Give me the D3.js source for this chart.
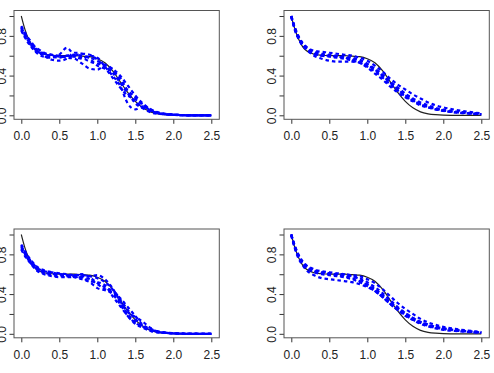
<!DOCTYPE html>
<html>
<head>
<meta charset="utf-8">
<script src="https://cdn.jsdelivr.net/npm/d3@7"></script>
<style>
  body { margin: 0; background: #fff; }
  text { font-family: "Liberation Sans Narrow", "Liberation Sans", sans-serif; fill: #222; }
</style>
</head>
<body>
<div id="area"></div>
<script>
// time grid shared by every curve
var tGrid = [0, 0.05, 0.1, 0.15, 0.2, 0.3, 0.4, 0.5, 0.6, 0.7, 0.8, 0.9, 1.0, 1.1, 1.2, 1.3, 1.4, 1.5, 1.6, 1.7, 1.8, 1.9, 2.0, 2.2, 2.5];

// the true curve (solid black)
var trueCurve = [1.00, 0.86, 0.76, 0.69, 0.65, 0.615, 0.605, 0.60, 0.60, 0.60, 0.595, 0.59, 0.57, 0.53, 0.45, 0.34, 0.23, 0.14, 0.075, 0.035, 0.015, 0.006, 0.002, 0.0, 0.0];

// estimates, top left
var estTopLeft = [
    [0.88, 0.80, 0.74, 0.68, 0.64, 0.61, 0.60, 0.59, 0.60, 0.61, 0.60, 0.58, 0.55, 0.50, 0.43, 0.33, 0.22, 0.14, 0.08, 0.04, 0.02, 0.01, 0.005, 0, 0],
    [0.90, 0.83, 0.76, 0.70, 0.66, 0.60, 0.56, 0.55, 0.57, 0.63, 0.62, 0.57, 0.50, 0.47, 0.44, 0.38, 0.24, 0.12, 0.07, 0.03, 0.015, 0.01, 0.005, 0, 0],
    [0.86, 0.78, 0.72, 0.67, 0.63, 0.59, 0.58, 0.61, 0.68, 0.60, 0.57, 0.60, 0.58, 0.49, 0.40, 0.30, 0.12, 0.06, 0.09, 0.05, 0.02, 0.01, 0.005, 0, 0],
    [0.87, 0.82, 0.75, 0.71, 0.68, 0.63, 0.61, 0.60, 0.58, 0.57, 0.52, 0.47, 0.46, 0.50, 0.46, 0.35, 0.25, 0.18, 0.10, 0.05, 0.025, 0.01, 0.005, 0, 0],
    [0.85, 0.79, 0.73, 0.69, 0.65, 0.62, 0.61, 0.59, 0.59, 0.60, 0.62, 0.61, 0.56, 0.48, 0.38, 0.28, 0.20, 0.16, 0.11, 0.06, 0.03, 0.015, 0.01, 0, 0],
    [0.89, 0.81, 0.77, 0.72, 0.67, 0.62, 0.59, 0.58, 0.60, 0.59, 0.58, 0.54, 0.52, 0.51, 0.47, 0.40, 0.30, 0.20, 0.12, 0.06, 0.025, 0.01, 0.005, 0.002, 0]
];

// estimates, top right
var estTopRight = [
    [1.00, 0.87, 0.78, 0.72, 0.68, 0.63, 0.61, 0.60, 0.59, 0.58, 0.57, 0.55, 0.51, 0.46, 0.40, 0.33, 0.27, 0.21, 0.16, 0.12, 0.09, 0.065, 0.05, 0.03, 0.012],
    [0.99, 0.86, 0.77, 0.71, 0.67, 0.62, 0.60, 0.59, 0.58, 0.57, 0.55, 0.53, 0.49, 0.44, 0.38, 0.31, 0.25, 0.19, 0.15, 0.11, 0.085, 0.065, 0.05, 0.03, 0.012],
    [1.00, 0.88, 0.79, 0.73, 0.69, 0.65, 0.64, 0.63, 0.62, 0.61, 0.60, 0.58, 0.55, 0.50, 0.44, 0.37, 0.31, 0.26, 0.21, 0.17, 0.13, 0.10, 0.08, 0.05, 0.02],
    [0.99, 0.85, 0.76, 0.70, 0.66, 0.60, 0.57, 0.55, 0.54, 0.54, 0.54, 0.53, 0.50, 0.46, 0.40, 0.33, 0.26, 0.20, 0.15, 0.11, 0.08, 0.06, 0.045, 0.025, 0.01],
    [1.00, 0.86, 0.77, 0.71, 0.67, 0.62, 0.60, 0.60, 0.59, 0.58, 0.56, 0.53, 0.48, 0.42, 0.36, 0.29, 0.23, 0.18, 0.14, 0.10, 0.08, 0.06, 0.045, 0.028, 0.012],
    [1.00, 0.87, 0.78, 0.72, 0.68, 0.64, 0.62, 0.61, 0.60, 0.59, 0.58, 0.56, 0.52, 0.47, 0.41, 0.34, 0.28, 0.22, 0.17, 0.13, 0.10, 0.075, 0.057, 0.035, 0.014]
];

// estimates, bottom left
var estBottomLeft = [
    [0.88, 0.81, 0.74, 0.69, 0.66, 0.63, 0.61, 0.60, 0.59, 0.58, 0.57, 0.55, 0.50, 0.45, 0.40, 0.30, 0.18, 0.10, 0.06, 0.03, 0.015, 0.01, 0.005, 0, 0],
    [0.86, 0.80, 0.75, 0.71, 0.67, 0.63, 0.62, 0.61, 0.60, 0.59, 0.59, 0.58, 0.56, 0.52, 0.45, 0.35, 0.24, 0.15, 0.08, 0.04, 0.02, 0.01, 0.005, 0, 0],
    [0.90, 0.83, 0.77, 0.72, 0.68, 0.64, 0.62, 0.60, 0.58, 0.57, 0.55, 0.52, 0.46, 0.44, 0.42, 0.32, 0.20, 0.12, 0.07, 0.03, 0.015, 0.008, 0.004, 0, 0],
    [0.85, 0.78, 0.73, 0.68, 0.64, 0.60, 0.58, 0.57, 0.57, 0.57, 0.58, 0.58, 0.59, 0.55, 0.46, 0.33, 0.22, 0.17, 0.12, 0.06, 0.02, 0.01, 0.005, 0, 0],
    [0.87, 0.82, 0.76, 0.70, 0.65, 0.61, 0.59, 0.58, 0.58, 0.59, 0.60, 0.57, 0.51, 0.47, 0.43, 0.36, 0.27, 0.18, 0.09, 0.05, 0.025, 0.012, 0.006, 0, 0],
    [0.89, 0.80, 0.74, 0.69, 0.66, 0.62, 0.60, 0.60, 0.59, 0.58, 0.56, 0.53, 0.52, 0.49, 0.38, 0.28, 0.18, 0.11, 0.07, 0.04, 0.02, 0.01, 0.005, 0.002, 0]
];

// estimates, bottom right
var estBottomRight = [
    [1.00, 0.87, 0.78, 0.72, 0.68, 0.64, 0.62, 0.61, 0.60, 0.59, 0.58, 0.56, 0.52, 0.47, 0.41, 0.34, 0.27, 0.21, 0.16, 0.12, 0.09, 0.07, 0.055, 0.035, 0.014],
    [0.99, 0.86, 0.77, 0.71, 0.67, 0.62, 0.60, 0.59, 0.58, 0.57, 0.55, 0.52, 0.48, 0.43, 0.37, 0.30, 0.24, 0.19, 0.14, 0.11, 0.08, 0.06, 0.047, 0.03, 0.012],
    [1.00, 0.87, 0.78, 0.72, 0.68, 0.63, 0.62, 0.61, 0.60, 0.60, 0.59, 0.58, 0.55, 0.51, 0.45, 0.38, 0.31, 0.25, 0.20, 0.15, 0.115, 0.09, 0.07, 0.045, 0.018],
    [0.99, 0.85, 0.75, 0.69, 0.64, 0.59, 0.56, 0.55, 0.54, 0.53, 0.52, 0.50, 0.47, 0.43, 0.37, 0.30, 0.24, 0.18, 0.14, 0.10, 0.075, 0.055, 0.04, 0.025, 0.01],
    [1.00, 0.86, 0.77, 0.71, 0.67, 0.63, 0.61, 0.60, 0.59, 0.58, 0.56, 0.53, 0.49, 0.44, 0.38, 0.31, 0.25, 0.20, 0.15, 0.11, 0.085, 0.065, 0.05, 0.032, 0.013],
    [1.00, 0.88, 0.79, 0.73, 0.69, 0.65, 0.63, 0.62, 0.61, 0.60, 0.58, 0.55, 0.50, 0.45, 0.39, 0.32, 0.26, 0.21, 0.16, 0.12, 0.095, 0.07, 0.055, 0.035, 0.014]
];

var xTicks = [0, 0.5, 1.0, 1.5, 2.0, 2.5];
var yTicks = [0, 0.2, 0.4, 0.6, 0.8, 1.0];
var yLabelled = [0, 0.4, 0.8];

var width = 494,
    height = 373,
    boxW = 205.3,
    boxH = 108.8;

var svg = d3.select("#area")
    .append("svg")
        .attr("width", width)
        .attr("height", height);

var panels = [
    {left: 14, top: 10.5, est: estTopLeft},
    {left: 284, top: 10.5, est: estTopRight},
    {left: 14, top: 229, est: estBottomLeft},
    {left: 284, top: 229, est: estBottomRight}
];

var scaleX = d3.scaleLinear().domain([0, 2.5]).range([7.3, 197.3]);
var scaleY = d3.scaleLinear().domain([0, 1]).range([104.8, 5.5]);

var line = d3.line()
    .x(function(d) { return scaleX(d[0]); })
    .y(function(d) { return scaleY(d[1]); })
    .curve(d3.curveMonotoneX);

function pairs(vals) {
    return tGrid.map(function(t, i) { return [t, vals[i]]; });
}

panels.forEach(function(p) {
    var g = svg.append("g")
        .attr("transform", "translate(" + p.left + "," + p.top + ")");

    // x axis
    var ax = g.append("g")
        .attr("transform", "translate(0," + boxH + ")")
        .call(d3.axisBottom(scaleX)
            .tickValues(xTicks)
            .tickFormat(d3.format(".1f"))
            .tickSize(4.5)
            .tickSizeOuter(0));
    ax.select(".domain").remove();
    ax.selectAll("line").attr("stroke", "#333");
    ax.selectAll("text")
        .attr("y", 12.5)
        .attr("dy", "0.71em")
        .style("font-size", "12px")
        .attr("fill", "#333");

    // y axis, labels turned like R does
    var ay = g.append("g")
        .call(d3.axisLeft(scaleY)
            .tickValues(yTicks)
            .tickFormat(function(d) {
                return yLabelled.indexOf(d) >= 0 ? d3.format(".1f")(d) : "";
            })
            .tickSize(4.5)
            .tickSizeOuter(0));
    ay.select(".domain").remove();
    ay.selectAll("line").attr("stroke", "#333");
    ay.selectAll("text")
        .attr("transform", "rotate(-90)")
        .attr("x", 0)
        .attr("y", -8)
        .attr("dy", null)
        .attr("text-anchor", "middle")
        .style("font-size", "12px")
        .attr("fill", "#333");

    g.append("path")
        .attr("fill", "none")
        .attr("stroke", "#222")
        .attr("stroke-width", 1.2)
        .attr("d", line(pairs(trueCurve)));

    g.selectAll(".est")
        .data(p.est)
        .enter()
        .append("path")
            .attr("class", "est")
            .attr("fill", "none")
            .attr("stroke", "#0000ff")
            .attr("stroke-width", 2.2)
            .attr("stroke-dasharray", "3.5,3")
            .attr("d", function(d) { return line(pairs(d)); });

    g.append("rect")
        .attr("width", boxW)
        .attr("height", boxH)
        .attr("fill", "none")
        .attr("stroke", "#555")
        .attr("stroke-width", 1);
});
</script>
</body>
</html>
